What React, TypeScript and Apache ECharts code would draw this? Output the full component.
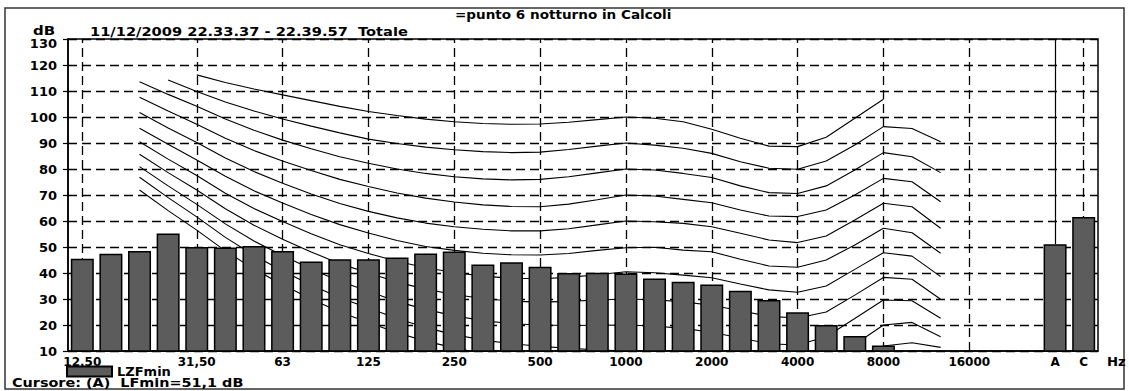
import React, { useEffect, useRef } from 'react';
import * as echarts from 'echarts';

// 1/3-octave bands, then an empty slot, then the A and C weighted totals
const bands = ['12,50', '16', '20', '25', '31,50', '40', '50', '63', '80', '100', '125', '160', '200', '250', '315', '400', '500', '630', '800', '1000', '1250', '1600', '2000', '2500', '3150', '4000', '5000', '6300', '8000', '10000', '12500', '16000', '20000', ' ', 'A', 'C'];
const labelledBands = ['12,50', '31,50', '63', '125', '250', '500', '1000', '2000', '4000', '8000', '16000', 'A', 'C'];
const cursorBand = 'A';

// LZFmin measured levels (dB)
const lzfmin = [45.5, 47.4, 48.5, 55.2, 50.0, 49.8, 50.4, 48.5, 44.4, 45.3, 45.3, 46.0, 47.5, 48.3, 43.3, 44.1, 42.4, 40.0, 40.1, 39.8, 37.9, 36.6, 35.6, 33.2, 29.6, 24.9, 20.0, 15.8, 12.1, null, null, null, null, null, 51.1, 61.5];

// equal-loudness contours (dB); first value at the given band
const phon100 = [116.2, 113.3, 110.8, 108.5, 106.3, 104.1, 102.1, 100.6, 99.2, 98.2, 97.5, 97.2, 97.3, 98.0, 99.0, 100.0, 99.5, 98.2, 95.3, 91.8, 88.8, 88.6, 92.2, 99.5, 106.8];
const phon90 = [114.2, 109.8, 105.8, 102.3, 99.2, 96.5, 93.9, 91.5, 89.8, 88.4, 87.4, 86.7, 86.3, 86.5, 87.5, 88.8, 90.0, 89.2, 88.0, 86.0, 82.8, 80.3, 79.9, 83.1, 89.2, 96.3, 95.6, 90.5];
const phon80 = [113.6, 108.7, 104.1, 99.2, 94.9, 91.1, 87.8, 84.7, 82.2, 80.0, 78.3, 77.0, 76.2, 75.8, 76.0, 77.0, 78.5, 80.0, 79.6, 78.3, 76.7, 73.5, 70.9, 70.6, 73.5, 79.6, 86.3, 84.7, 78.6];
const phon70 = [107.6, 102.3, 97.2, 91.8, 87.1, 83.1, 79.4, 76.0, 73.3, 70.8, 68.8, 67.3, 66.2, 65.6, 65.5, 66.5, 68.2, 70.0, 69.6, 68.3, 67.0, 64.2, 61.9, 61.7, 64.2, 70.0, 76.4, 75.1, 67.4];
const phon60 = [101.7, 95.8, 90.2, 84.2, 79.0, 74.5, 70.4, 66.7, 63.7, 61.2, 59.2, 57.8, 56.8, 56.2, 56.2, 57.0, 58.5, 60.0, 59.7, 59.1, 57.8, 55.3, 52.7, 51.7, 54.2, 60.4, 66.8, 65.5, 57.2];
const phon50 = [95.7, 89.5, 83.5, 77.2, 71.6, 66.9, 62.5, 58.6, 55.4, 52.5, 50.2, 48.7, 47.6, 47.0, 46.9, 47.5, 48.7, 49.7, 49.9, 48.8, 48.2, 45.3, 42.7, 42.2, 45.0, 50.8, 57.2, 55.5, 47.6];
const phon40 = [90.5, 83.8, 77.5, 70.7, 64.8, 59.8, 55.1, 50.9, 47.5, 44.5, 42.0, 40.2, 38.8, 38.0, 37.8, 38.3, 39.3, 40.5, 40.1, 39.2, 38.2, 35.8, 33.5, 32.6, 35.0, 41.4, 47.8, 46.5, 38.6];
const phon30 = [85.7, 78.6, 71.9, 64.7, 58.4, 53.0, 48.1, 43.6, 40.0, 36.5, 33.8, 31.7, 30.2, 29.2, 28.8, 29.1, 29.6, 30.0, 29.7, 28.9, 27.6, 25.5, 23.3, 22.7, 25.0, 31.5, 38.3, 37.6, 29.9];
const phon20 = [80.9, 73.5, 66.4, 58.9, 52.3, 46.7, 41.5, 36.8, 33.0, 29.0, 26.0, 23.5, 21.7, 20.5, 20.0, 19.8, 19.9, 20.0, 19.6, 18.7, 17.2, 15.0, 12.8, 12.3, 15.5, 22.5, 29.6, 29.3, 22.6];
const phon10 = [76.8, 69.0, 61.6, 53.7, 46.8, 40.8, 35.4, 30.5, 26.5, 22.5, 19.0, 16.3, 14.2, 12.8, 11.8, 11.0, 10.5, 10.0, 9.6, 8.5, 7.0, 4.8, 2.5, 2.0, 5.0, 12.5, 20.0, 21.0, 15.5];
const phon0 = [71.9, 64.0, 56.5, 48.5, 41.5, 35.5, 30.0, 25.0, 21.0, 17.0, 13.8, 11.2, 9.0, 7.2, 6.0, 5.0, 4.4, 4.2, 3.7, 2.6, 1.0, -1.2, -3.6, -3.9, -1.1, 6.0, 11.9, 13.2, 11.4];

const curves = [
  { start: '31,50', data: phon100 },
  { start: '25', data: phon90 },
  { start: '20', data: phon80 },
  { start: '20', data: phon70 },
  { start: '20', data: phon60 },
  { start: '20', data: phon50 },
  { start: '20', data: phon40 },
  { start: '20', data: phon30 },
  { start: '20', data: phon20 },
  { start: '20', data: phon10 },
  { start: '20', data: phon0 },
];

const yTicks = { min: 10, max: 130, step: 10 };
const titleText = '=punto 6 notturno in Calcoli';
const subtitleText = '11/12/2009 22.33.37 - 22.39.57  Totale';
const cursorText = 'Cursore: (A)  LFmin=51,1 dB';
const seriesName = 'LZFmin';

const FONT = 'DejaVu Sans';

function pad(vals: number[], startBand: string) {
  const s = bands.indexOf(startBand);
  return bands.map((_, i) => (i >= s && i < s + vals.length ? vals[i - s] : null));
}

export default function App() {
  const ref = useRef<HTMLDivElement>(null);
  useEffect(() => {
    if (!ref.current) return;
    const chart = echarts.init(ref.current, undefined, { renderer: 'svg' });
    const cursorIdx = bands.indexOf(cursorBand);
    const cursorVal = lzfmin[cursorIdx] as number;
    const gridMarks = labelledBands
      .filter((b) => b !== cursorBand)
      .map((b) => ({ xAxis: bands.indexOf(b) }));

    const lineSeries = curves.map((c, k) => ({
      type: 'line',
      name: 'c' + k,
      data: pad(c.data, c.start),
      symbol: 'none',
      silent: true,
      z: 1,
      clip: true,
      lineStyle: { color: '#000', width: 1.1 },
      ...(k === 0
        ? {
            markLine: {
              silent: true,
              symbol: ['none', 'none'],
              label: { show: false },
              z: 1,
              lineStyle: { type: [9, 5], color: '#000', width: 1.3 },
              data: [
                ...gridMarks,
                [
                  { coord: [cursorIdx, yTicks.max], lineStyle: { type: 'solid', width: 1.2, color: '#000' } },
                  { coord: [cursorIdx, cursorVal] },
                ],
              ],
            },
          }
        : {}),
    }));

    const txt = (text: string, x: number, y: number, sx: number) => ({
      type: 'text',
      x,
      y,
      scaleX: sx,
      silent: true,
      style: { text, font: `bold 12px "${FONT}"`, fill: '#000', textVerticalAlign: 'top' },
    });

    chart.setOption({
      animation: false,
      backgroundColor: '#fff',
      grid: {
        left: 68,
        right: 31,
        top: 39,
        bottom: 40,
        show: true,
        borderColor: '#000',
        borderWidth: 1.5,
        backgroundColor: 'transparent',
      },
      legend: {
        data: [seriesName],
        left: 66,
        top: 365,
        padding: 0,
        itemWidth: 45,
        itemHeight: 10,
        itemGap: 6,
        icon: 'rect',
        textStyle: { fontFamily: FONT, fontWeight: 'bold', fontSize: 13, lineHeight: 12, color: '#000' },
      },
      xAxis: {
        type: 'category',
        data: bands,
        boundaryGap: true,
        axisLine: { show: true, lineStyle: { color: '#000', width: 1.5 } },
        axisTick: { show: false },
        splitLine: { show: false },
        axisLabel: {
          interval: (_i: number, v: string) => labelledBands.includes(v),
          fontFamily: FONT,
          fontWeight: 'bold',
          fontSize: 12,
          color: '#000',
          margin: 5,
        },
      },
      yAxis: {
        type: 'value',
        min: yTicks.min,
        max: yTicks.max,
        interval: yTicks.step,
        axisLine: { show: true, lineStyle: { color: '#000', width: 1.5 } },
        axisTick: { show: true, length: 5, lineStyle: { color: '#000', width: 1.2 } },
        splitLine: { show: true, lineStyle: { type: [9, 5], color: '#000', width: 1.3 } },
        axisLabel: {
          fontFamily: FONT,
          fontWeight: 'bold',
          fontSize: 13,
          color: '#000',
          margin: 11,
          formatter: (v: number) => (v === yTicks.max ? `{top|${v}}` : `${v}`),
          rich: { top: { fontFamily: FONT, fontWeight: 'bold', fontSize: 13, color: '#000', padding: [9, 0, 0, 0] } },
        },
      },
      graphic: [
        { type: 'rect', shape: { x: 5, y: 8, width: 1119, height: 381 }, style: { fill: 'none', stroke: '#333', lineWidth: 1.5 }, silent: true },
        txt(titleText, 455, 9, 1.13),
        txt(subtitleText, 90, 26, 1.22),
        txt('dB', 33, 25, 1.25),
        txt('Hz', 1107, 356, 1.1),
        txt(cursorText, 12, 377, 1.2),
      ],
      series: [
        ...lineSeries,
        {
          type: 'bar',
          name: seriesName,
          data: lzfmin,
          barWidth: 23,
          silent: true,
          z: 3,
          itemStyle: { color: '#5c5c5c', borderColor: '#000', borderWidth: 1.5 },
        },
      ],
    });
    return () => chart.dispose();
  }, []);
  return <div ref={ref} style={{ position: 'fixed', left: 0, top: 0, width: 1129, height: 391 }} />;
}
